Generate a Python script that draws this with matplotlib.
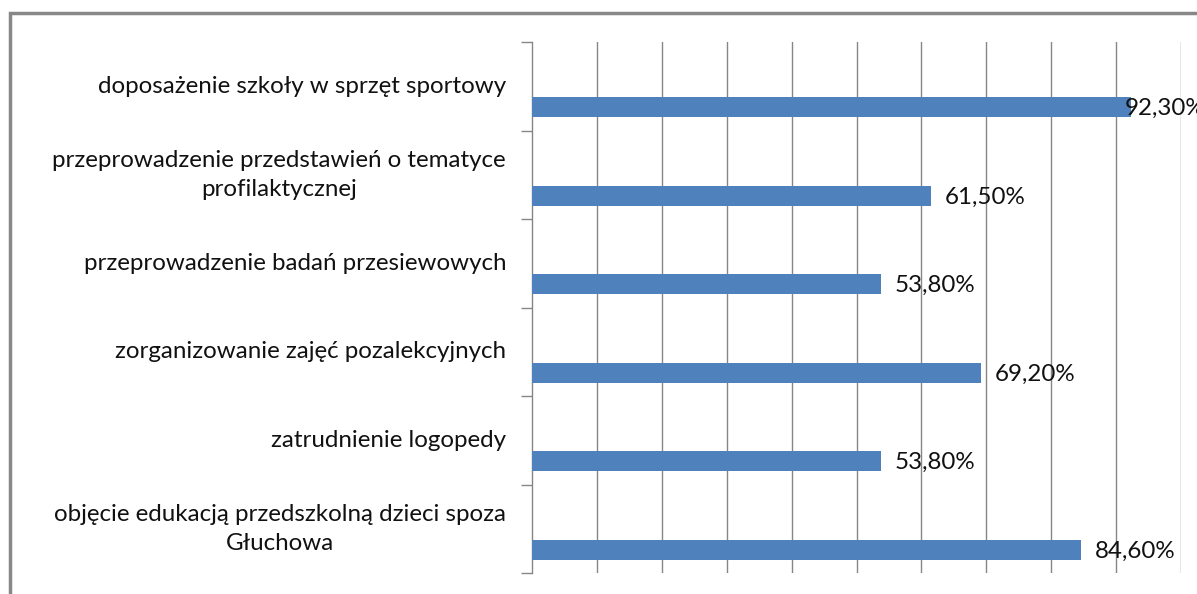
import matplotlib
matplotlib.use("Agg")
import matplotlib.pyplot as plt
import matplotlib.transforms as mtransforms
from matplotlib.patches import Rectangle

plt.rcParams['font.family'] = ['Lato', 'DejaVu Sans']

categories = [
    "doposażenie szkoły w sprzęt sportowy",
    "przeprowadzenie przedstawień o tematyce\nprofilaktycznej",
    "przeprowadzenie badań przesiewowych",
    "zorganizowanie zajęć pozalekcyjnych",
    "zatrudnienie logopedy",
    "objęcie edukacją przedszkolną dzieci spoza\nGłuchowa",
]
values = [92.3, 61.5, 53.8, 69.2, 53.8, 84.6]
value_labels = ["92,30%", "61,50%", "53,80%", "69,20%", "53,80%", "84,60%"]

W, H = 1197, 594
fig = plt.figure(figsize=(W / 100, H / 100), dpi=100)
fig.patch.set_facecolor("white")

# outer chart frame (runs off the right/bottom edge)
fig.add_artist(Rectangle((10 / W, -0.05), 1.2, 1 - 13 / H + 0.05,
                         transform=fig.transFigure, fill=False,
                         edgecolor="#878787", linewidth=2.5))

ax = fig.add_axes([532 / W, 1 - 573 / H, (1181 - 532) / W, (573 - 42) / H])

gray = "#868686"
ypos = list(range(len(categories)))
ax.barh([y + 0.24 for y in ypos], values, height=0.226, color="#4F81BD", zorder=3)

ax.set_xlim(0, 100)
ax.set_ylim(len(categories) - 0.5, -0.5)

ax.set_xticks(range(10, 101, 10))
ax.grid(axis="x", color=gray, linewidth=1.0, zorder=0)
ax.tick_params(axis="x", length=0, labelbottom=False)

ax.set_yticks([y - 0.5 for y in range(len(categories) + 1)])
ax.set_yticklabels([])
ax.tick_params(axis="y", direction="out", length=8, color=gray, width=1.0)

for s in ["top", "right", "bottom"]:
    ax.spines[s].set_visible(False)
ax.spines["left"].set_color(gray)
ax.spines["left"].set_linewidth(1.0)

trans = mtransforms.blended_transform_factory(ax.transAxes, ax.transData)
for y, lab in zip(ypos, categories):
    ax.text(-0.04, y, lab, transform=trans, ha="right", va="center",
            multialignment="center", fontsize=17.4, linespacing=1.45,
            color="#111111")

for y, v, t in zip(ypos, values, value_labels):
    x = min(v + 2.1, 91.3)
    ax.text(x, y + 0.25, t, ha="left", va="center", fontsize=17.4,
            color="#111111", zorder=4, clip_on=False)

fig.savefig("out.png", dpi=100)
